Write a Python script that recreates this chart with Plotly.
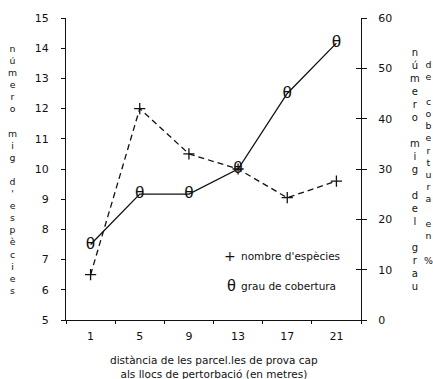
import plotly.graph_objects as go

# distance of the test plots from the disturbance sites (m)
distancia = [1, 5, 9, 13, 17, 21]
# mean number of species per plot (left axis)
nombre_especies = [6.5, 12.0, 10.5, 10.0, 9.05, 9.6]
# mean cover degree in % (right axis)
grau_cobertura = [15, 25, 25, 30, 45, 55]

x_tick_vals = [1, 5, 9, 13, 17, 21]
x_tick_text = ["1", "5", "9", "13", "17", "21"]
x_minor_ticks = [-1, 3, 7, 11, 15, 19, 23]
y_left_ticks = [5, 6, 7, 8, 9, 10, 11, 12, 13, 14, 15]
y_right_ticks = [0, 10, 20, 30, 40, 50, 60]

FONT = "DejaVu Sans"
INK = "#111111"


def vertical(text):
    return "<br>".join(ch if ch != " " else " " for ch in text)


fig = go.Figure()

fig.add_trace(go.Scatter(
    x=distancia, y=nombre_especies, mode="lines+markers",
    line=dict(color=INK, width=1.3, dash="6px,4px"),
    marker=dict(symbol="cross-thin-open", size=8, line=dict(color=INK, width=1.3)),
    showlegend=False, yaxis="y",
))
fig.add_trace(go.Scatter(
    x=distancia, y=grau_cobertura, mode="lines+text",
    line=dict(color=INK, width=1.3),
    text=["θ"] * len(distancia), textposition="middle center",
    textfont=dict(family="Liberation Sans", size=17, color=INK),
    showlegend=False, yaxis="y2",
))

fig.update_layout(
    width=433, height=379,
    margin=dict(l=66, r=72, t=13, b=59),
    paper_bgcolor="white", plot_bgcolor="white",
    font=dict(family=FONT, size=11, color=INK),
    xaxis=dict(
        range=[-1, 23], tickvals=x_tick_vals, ticktext=x_tick_text,
        ticks="", showgrid=False, zeroline=False,
        showline=True, linecolor=INK, linewidth=1.3,
        minor=dict(tickvals=x_minor_ticks, ticks="outside", ticklen=3,
                   tickcolor=INK, showgrid=False),
        ticklabelstandoff=6,
        tickfont=dict(size=11),
    ),
    yaxis=dict(
        range=[5, 15], tickvals=y_left_ticks, ticks="outside", ticklen=4,
        tickcolor=INK, showgrid=False, zeroline=False,
        showline=True, linecolor=INK, linewidth=1.3,
        ticklabelstandoff=10, tickfont=dict(size=11),
    ),
    yaxis2=dict(
        range=[0, 60], tickvals=y_right_ticks, ticks="outside", ticklen=5,
        tickcolor=INK, showgrid=False, zeroline=False,
        showline=True, linecolor=INK, linewidth=1.3,
        overlaying="y", side="right", anchor="x",
        ticklabelstandoff=9, tickfont=dict(size=11),
    ),
    yaxis3=dict(
        range=[0, 60], tickvals=y_right_ticks, ticks="inside", ticklen=5,
        tickcolor=INK, showgrid=False, zeroline=False, showline=False,
        showticklabels=False, overlaying="y", side="right", anchor="x",
    ),
    showlegend=False,
)

# invisible trace to bring in the inner tick marks of the right axis
fig.add_trace(go.Scatter(x=[None], y=[None], yaxis="y3", showlegend=False))

annotations = [
    dict(text="distància de les parcel.les de prova cap<br>als llocs de pertorbació (en metres)",
         xref="paper", yref="paper", x=0.5, y=-0.105, xanchor="center", yanchor="top",
         showarrow=False, font=dict(size=10.5)),
    dict(text=vertical("número mig d'espècies"), xref="paper", yref="paper",
         x=-0.183, y=0.50, xanchor="center", yanchor="middle", showarrow=False,
         font=dict(size=9.3)),
    dict(text=vertical("número mig del grau"), xref="paper", yref="paper",
         x=(415 - 66) / 295, y=0.50, xanchor="center", yanchor="middle", showarrow=False,
         font=dict(size=10)),
    dict(text=vertical("de cobertura en %"), xref="paper", yref="paper",
         x=(428 - 66) / 295, y=0.523, xanchor="center", yanchor="middle", showarrow=False,
         font=dict(size=9.4)),
    # legend
    dict(text="+", xref="paper", yref="paper", x=(230 - 66) / 295, y=(320 - 255) / 307,
         xanchor="center", yanchor="middle", showarrow=False, font=dict(size=14)),
    dict(text="nombre d'espècies", xref="paper", yref="paper", x=(239 - 66) / 295,
         y=(320 - 255) / 307, xanchor="left", yanchor="middle", showarrow=False,
         font=dict(size=10.5)),
    dict(text="θ", xref="paper", yref="paper", x=(231 - 66) / 295, y=(320 - 285) / 307,
         xanchor="center", yanchor="middle", showarrow=False,
         font=dict(family="Liberation Sans", size=16)),
    dict(text="grau de cobertura", xref="paper", yref="paper", x=(239 - 66) / 295,
         y=(320 - 285) / 307, xanchor="left", yanchor="middle", showarrow=False,
         font=dict(size=10.5)),
]
fig.update_layout(annotations=annotations)

fig.write_html("out.html")
